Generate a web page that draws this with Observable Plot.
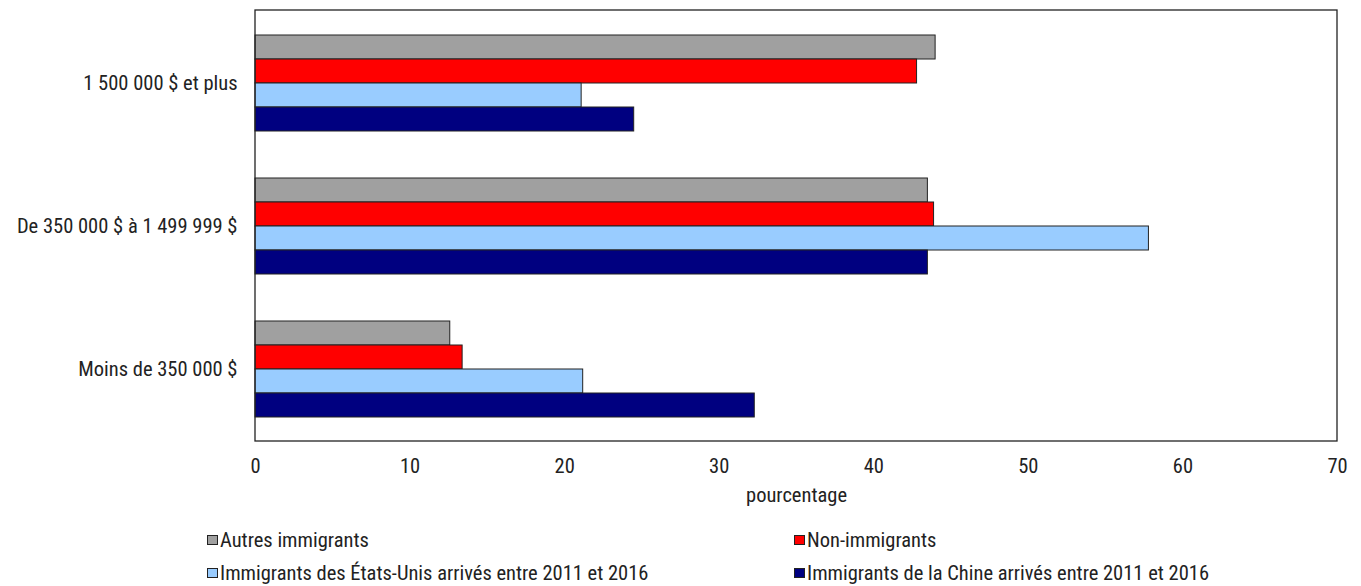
<!DOCTYPE html>
<html>
<head>
<meta charset="utf-8">
<script src="https://cdn.jsdelivr.net/npm/d3@7"></script>
<script src="https://cdn.jsdelivr.net/npm/@observablehq/plot@0.6"></script>
<style>
  html, body { margin: 0; padding: 0; background: #fff; }
  #wrap { position: relative; width: 1361px; height: 586px; font-family: "Roboto Condensed", "Liberation Sans", sans-serif; color: #222; }
  .leg { position: absolute; display: flex; align-items: center; font-size: 20.5px; white-space: nowrap; line-height: 1; }
  .sw { width: 9px; height: 8px; border: 1px solid #222; margin-right: 2px; }
</style>
</head>
<body>
<div id="wrap"></div>
<script>
const categories = ["1 500 000 $ et plus", "De 350 000 $ à 1 499 999 $", "Moins de 350 000 $"];
const seriesNames = [
  "Autres immigrants",
  "Non-immigrants",
  "Immigrants des États-Unis arrivés entre 2011 et 2016",
  "Immigrants de la Chine arrivés entre 2011 et 2016"
];
const autres = [44.0, 43.5, 12.6];
const nonImmigrants = [42.8, 43.9, 13.4];
const etatsUnis = [21.1, 57.8, 21.2];
const chine = [24.5, 43.5, 32.3];
const seriesColors = ["#A0A0A0", "#FF0000", "#99CCFF", "#000080"];
const xTicks = [0, 10, 20, 30, 40, 50, 60, 70];
const xLabel = "pourcentage";

(function () {
const seriesValues = [autres, nonImmigrants, etatsUnis, chine];
const data = [];
categories.forEach((c, i) => {
  seriesNames.forEach((s, j) => data.push({category: c, series: s, value: seriesValues[j][i]}));
});

const W = 1361, H = 520;
const FONT = '"Roboto Condensed", "Liberation Sans", sans-serif';
const chart = Plot.plot({
  width: W,
  height: H,
  marginLeft: 255,
  marginRight: 24,
  marginTop: 10,
  marginBottom: 79,
  style: {fontFamily: FONT, fontSize: "20.5px", color: "#222", background: "#fff"},
  x: {domain: [0, 70]},
  y: {domain: seriesNames, paddingInner: 0, paddingOuter: 0, axis: null},
  fy: {domain: categories, paddingInner: 0.31, paddingOuter: 0.16, label: null},
  color: {domain: seriesNames, range: seriesColors},
  marks: [
    Plot.axisFy({anchor: "left", tickSize: 0, tickPadding: 18, label: null, fontSize: 20.5}),
    Plot.axisX({ticks: xTicks, tickSize: 0, tickPadding: 40, label: xLabel, labelAnchor: "center", labelArrow: "none", labelOffset: 83, fontSize: 20.5}),
    Plot.barX(data, {x: "value", y: "series", fy: "category", fill: "series", stroke: "#222", strokeWidth: 1})
  ]
});

// outer frame of the plot area, from the library's scales
const xr = chart.scale("x").range;
const fyScale = chart.scale("fy");
const fyr = fyScale && fyScale.range;
const frameTop = fyr ? Math.min(...fyr) : 10;
const frameBottom = fyr ? Math.max(...fyr) : H - 79;
d3.select(chart).append("rect")
  .attr("x", Math.min(...xr)).attr("y", frameTop)
  .attr("width", Math.abs(xr[1] - xr[0])).attr("height", frameBottom - frameTop)
  .attr("fill", "none").attr("stroke", "#222").attr("stroke-width", 1.3);

const wrap = document.getElementById("wrap");
wrap.appendChild(chart);

const legendPos = [[207, 541], [794, 541], [207, 574], [794, 574]];
seriesNames.forEach((s, i) => {
  const d = document.createElement("div");
  d.className = "leg";
  d.style.left = legendPos[i][0] + "px";
  d.style.top = (legendPos[i][1] - 11) + "px";
  const sw = document.createElement("div");
  sw.className = "sw";
  sw.style.background = seriesColors[i];
  const t = document.createElement("span");
  t.textContent = s;
  d.appendChild(sw); d.appendChild(t);
  wrap.appendChild(d);
});
})();
</script>
</body>
</html>
